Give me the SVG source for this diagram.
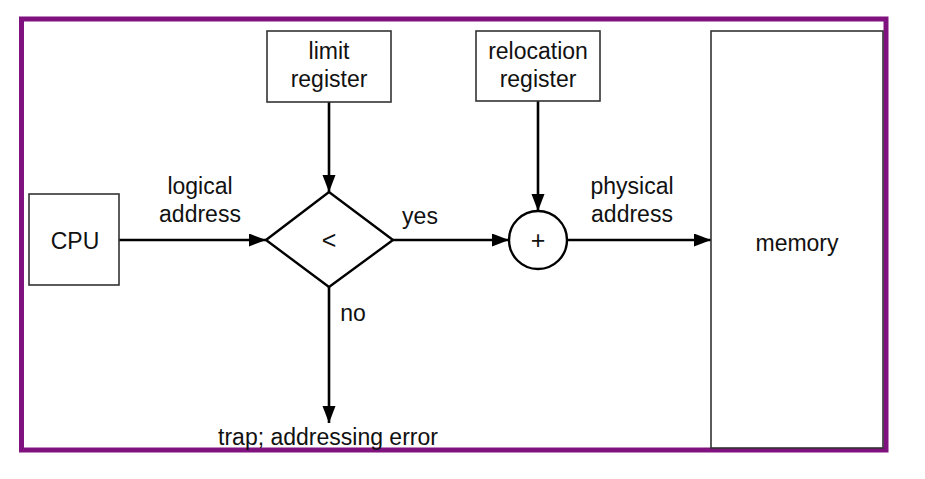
<svg xmlns="http://www.w3.org/2000/svg" width="925" height="479" viewBox="0 0 925 479">
<defs>
<style>
.box{fill:#ffffff;stroke:#333333;stroke-width:1.6}
.shape{fill:#ffffff;stroke:#000000;stroke-width:2.4}
.line{stroke:#000000;stroke-width:2.6;fill:none;marker-end:url(#ah)}
text{font-family:"Liberation Sans",Arial,sans-serif;font-size:23px;fill:#111111;text-anchor:middle}
.sym{font-size:25px}
</style>
<marker id="ah" markerUnits="userSpaceOnUse" markerWidth="18" markerHeight="14" refX="17" refY="6.5" orient="auto">
<path d="M0,0 L17,6.5 L0,13 z" fill="#000000"/>
</marker>
</defs>
<rect x="0" y="0" width="925" height="479" fill="#ffffff"/>
<rect id="frame" x="21.5" y="19" width="864.5" height="431" fill="#ffffff" stroke="#7f127f" stroke-width="5"/>
<g id="connectors">
<line class="line" x1="119" y1="240" x2="266" y2="240"/>
<line class="line" x1="329" y1="102" x2="329" y2="192"/>
<line class="line" x1="393" y1="240" x2="509" y2="240"/>
<line class="line" x1="538" y1="101" x2="538" y2="211"/>
<line class="line" x1="567" y1="240" x2="711" y2="240"/>
<line class="line" x1="329" y1="287" x2="329" y2="423"/>
<text x="200" y="194">logical</text>
<text x="200" y="222">address</text>
<text x="420" y="224">yes</text>
<text x="353" y="321">no</text>
<text x="632" y="194">physical</text>
<text x="632" y="222">address</text>
</g>
<g id="cpu">
<rect class="box" x="29" y="194" width="90" height="91"/>
<text x="75" y="249">CPU</text>
</g>
<g id="limit">
<rect class="box" x="267" y="31" width="124" height="71"/>
<text x="329" y="59">limit</text>
<text x="329" y="87">register</text>
</g>
<g id="relocation">
<rect class="box" x="476" y="31" width="124" height="70"/>
<text x="538" y="59">relocation</text>
<text x="538" y="87">register</text>
</g>
<g id="compare">
<polygon class="shape" points="266,240 329,192 393,240 329,287"/>
<text class="sym" x="329" y="249">&lt;</text>
</g>
<g id="adder">
<circle class="shape" cx="538" cy="240" r="29"/>
<text class="sym" x="538" y="249">+</text>
</g>
<g id="memory">
<rect class="box" x="711" y="31" width="172" height="417"/>
<text x="797" y="251">memory</text>
</g>
<g id="trap">
<text x="328" y="445">trap; addressing error</text>
</g>
</svg>
